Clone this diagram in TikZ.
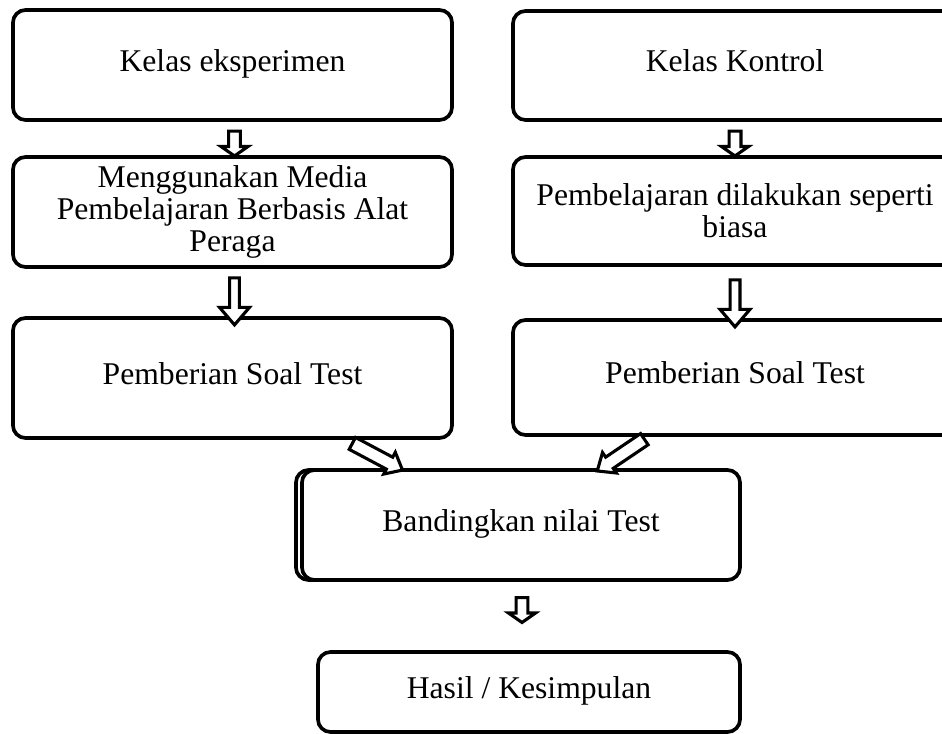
\documentclass[tikz,border=0pt]{standalone}
\usepackage{fontspec}
\setmainfont{Liberation Serif}
\usetikzlibrary{positioning, shapes, arrows, calc, arrows.meta}

\begin{document}
\begin{tikzpicture}[
      x=0.025cm, y=-0.025cm,
      box/.style={draw, rectangle, rounded corners=9pt, line width=2.6pt, fill=white, align=center, inner sep=0pt, font=\fontsize{22.5}{22.8}\selectfont},
      blockarrow/.style={draw, single arrow, fill=white, line width=2.2pt, inner xsep=0pt, single arrow head indent=0pt},
      shortarrow/.style={blockarrow, inner ysep=0.11cm, single arrow head extend=0.19cm, single arrow tip angle=110, minimum height=0.62cm},
      longarrow/.style={blockarrow, inner ysep=0.085cm, single arrow head extend=0.25cm, single arrow tip angle=81, minimum height=1.175cm},
      slantarrow/.style={blockarrow, inner ysep=0.13cm, single arrow head extend=0.14cm, single arrow tip angle=80, minimum height=1.42cm}
    ]
      \useasboundingbox (0,0) rectangle (942,734);
      % left column
      \node[box, minimum width=10.975cm, minimum height=2.75cm] (eks) at (232.5,65) {Kelas eksperimen\strut};
      \node[box, minimum width=10.975cm, minimum height=2.75cm] (media) at (232.5,212) {Menggunakan Media\\Pembelajaran Berbasis Alat\\Peraga};
      \node[box, minimum width=10.975cm, minimum height=3cm] (soalA) at (232.5,378) {Pemberian Soal Test\strut};
      % right column
      \node[box, minimum width=11.1cm, minimum height=2.725cm] (kon) at (735,65.5) {Kelas Kontrol\strut};
      \node[box, minimum width=11.1cm, minimum height=2.7cm] (biasa) at (735,211) {Pembelajaran dilakukan seperti\\biasa};
      \node[box, minimum width=11.1cm, minimum height=2.875cm] (soalB) at (735,377.5) {Pemberian Soal Test\strut};
      % bottom
      \node[box, minimum width=10.95cm, minimum height=2.75cm] (bandingcopy) at (515,525) {};
      \node[box, minimum width=10.95cm, minimum height=2.75cm] (banding) at (521,525) {Bandingkan nilai Test\strut};
      \node[box, minimum width=10.55cm, minimum height=2cm] (hasil) at (529,692) {Hasil / Kesimpulan\strut};

      \node[shortarrow, rotate=-90] (a1) at ($(eks.south)!0.5!(media.north)+(2,3)$) {};
      \node[shortarrow, rotate=-90] (a2) at ($(kon.south)!0.5!(biasa.north)+(0,3)$) {};
      \node[longarrow, rotate=-90] (a3) at ($(media.south)!0.5!(soalA.north)+(2,6)$) {};
      \node[longarrow, rotate=-90] (a4) at ($(biasa.south)!0.5!(soalB.north)+(0,8)$) {};
      \node[slantarrow, rotate=-28] (a5) at ($(soalA.south east)+(-80,15)$) {};
      \node[slantarrow, rotate=-146] (a6) at ($(soalB.south west)+(113,16)$) {};
      \node[shortarrow, rotate=-90] (a7) at ($(banding.south)!0.5!(hasil.north)+(-3,-8)$) {};
    \end{tikzpicture}
\end{document}
